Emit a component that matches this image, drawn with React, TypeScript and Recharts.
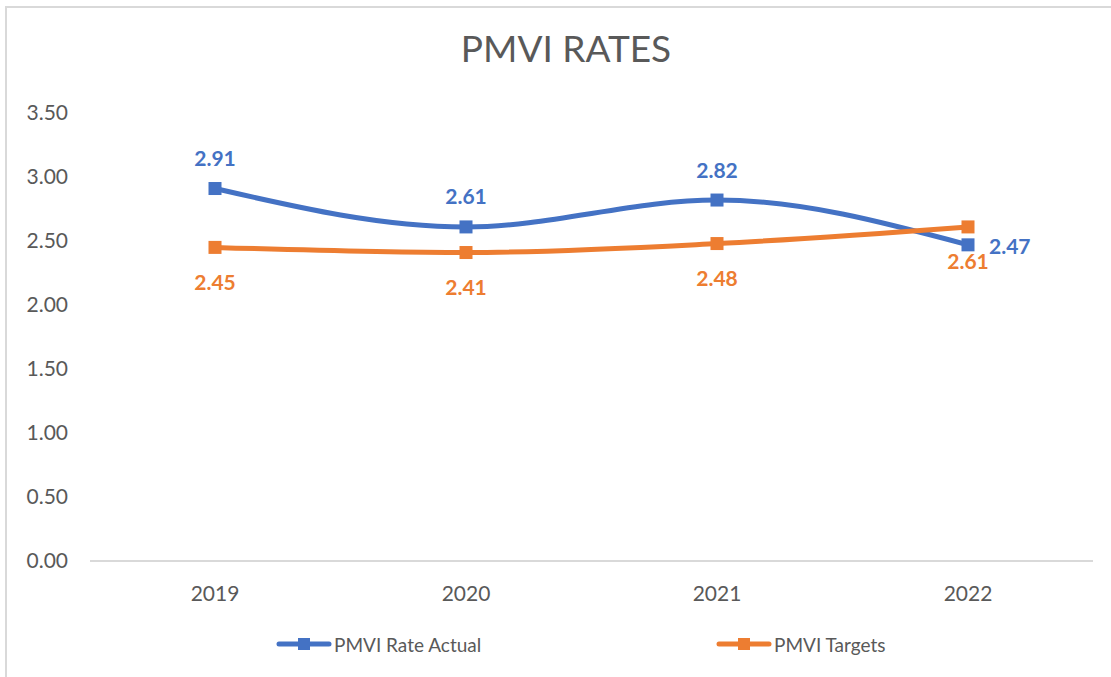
import React from 'react';
import { LineChart, Line, XAxis, YAxis, Legend, LabelList } from 'recharts';

const years = ['2019', '2020', '2021', '2022'];
const actualRates = [2.91, 2.61, 2.82, 2.47];
const targetRates = [2.45, 2.41, 2.48, 2.61];
const yTicks = [0, 0.5, 1, 1.5, 2, 2.5, 3, 3.5];
const seriesNames = ['PMVI Rate Actual', 'PMVI Targets'];
const chartTitle = 'PMVI RATES';

const BLUE = '#4472C4';
const ORANGE = '#ED7D31';
const GRAY = '#595959';
const FONT = 'Lato, "Liberation Sans", sans-serif';

const data = years.map((y, i) => ({ year: y, actual: actualRates[i], target: targetRates[i] }));

const makeDot = (color: string) => (props: any) => {
  const { cx, cy, index } = props;
  if (cx == null || cy == null) return <g key={`d-${index}`} />;
  return <rect key={`d-${color}-${index}`} x={cx - 6.5} y={cy - 6.5} width={13} height={13} fill={color} />;
};

const ActualLabel = (props: any) => {
  const { x, y, value, index } = props;
  const right = index === years.length - 1;
  return (
    <text
      x={right ? x + 21 : x}
      y={right ? y + 1 : y - 31}
      textAnchor={right ? 'start' : 'middle'}
      dominantBaseline="central"
      fill={BLUE}
      fontWeight="bold"
      fontSize={21}
      fontFamily={FONT}
    >
      {Number(value).toFixed(2)}
    </text>
  );
};

const TargetLabel = (props: any) => {
  const { x, y, value } = props;
  return (
    <text
      x={x}
      y={y + 34}
      textAnchor="middle"
      dominantBaseline="central"
      fill={ORANGE}
      fontWeight="bold"
      fontSize={21}
      fontFamily={FONT}
    >
      {Number(value).toFixed(2)}
    </text>
  );
};

const LegendIcon = ({ color }: { color: string }) => (
  <svg width={56} height={16} style={{ display: 'block' }}>
    <line x1={3} y1={8} x2={53} y2={8} stroke={color} strokeWidth={5} strokeLinecap="round" />
    <rect x={22} y={2} width={12} height={12} fill={color} />
  </svg>
);

const CustomLegend = () => {
  const items = [
    { name: seriesNames[0], color: BLUE, left: 276 },
    { name: seriesNames[1], color: ORANGE, left: 716 },
  ];
  return (
    <div style={{ position: 'relative', width: 1111, height: 26 }}>
      {items.map((it) => (
        <div
          key={it.name}
          style={{
            position: 'absolute',
            left: it.left,
            top: 0,
            height: 26,
            display: 'flex',
            alignItems: 'center',
            fontFamily: FONT,
            fontSize: 19,
            color: GRAY,
            whiteSpace: 'nowrap',
          }}
        >
          <LegendIcon color={it.color} />
          <span style={{ marginLeft: 2 }}>{it.name}</span>
        </div>
      ))}
    </div>
  );
};

export default function App() {
  return (
    <div style={{ position: 'absolute', left: 0, top: 0, width: 1111, height: 677, background: '#fff', overflow: 'hidden' }}>
      <div
        style={{
          position: 'absolute',
          left: 5,
          top: 6,
          width: 1120,
          height: 700,
          borderTop: '2px solid #D9D9D9',
          borderLeft: '2px solid #D9D9D9',
        }}
      />
      <div
        style={{
          position: 'absolute',
          left: 0,
          width: 1132,
          top: 26,
          textAlign: 'center',
          fontFamily: FONT,
          fontSize: 37,
          color: GRAY,
          lineHeight: '44px',
        }}
      >
        {chartTitle}
      </div>
      <div style={{ position: 'absolute', left: 0, top: 0 }}>
        <LineChart width={1111} height={677} data={data} margin={{ top: 113, right: 18, left: 20, bottom: 86 }}>
          <XAxis
            dataKey="year"
            axisLine={{ stroke: '#D9D9D9', strokeWidth: 2 }}
            tickLine={false}
            tickSize={0}
            tickMargin={25}
            height={30}
            padding={{ left: 125, right: 125 }}
            tick={{ fill: GRAY, fontSize: 21, fontFamily: FONT }}
          />
          <YAxis
            domain={[0, 3.5]}
            ticks={yTicks}
            tickFormatter={(v: number) => v.toFixed(2)}
            axisLine={false}
            tickLine={false}
            tickSize={0}
            tickMargin={22}
            width={70}
            tick={{ fill: GRAY, fontSize: 21, fontFamily: FONT }}
          />
          <Legend
            verticalAlign="middle"
            align="center"
            wrapperStyle={{ top: 631, left: 0, width: 1111 }}
            content={() => <CustomLegend />}
          />
          <Line
            type="monotone"
            dataKey="actual"
            name={seriesNames[0]}
            stroke={BLUE}
            strokeWidth={5}
            dot={makeDot(BLUE)}
            activeDot={false}
            isAnimationActive={false}
          >
            <LabelList dataKey="actual" content={ActualLabel} />
          </Line>
          <Line
            type="monotone"
            dataKey="target"
            name={seriesNames[1]}
            stroke={ORANGE}
            strokeWidth={5}
            dot={makeDot(ORANGE)}
            activeDot={false}
            isAnimationActive={false}
          >
            <LabelList dataKey="target" content={TargetLabel} />
          </Line>
        </LineChart>
      </div>
    </div>
  );
}
